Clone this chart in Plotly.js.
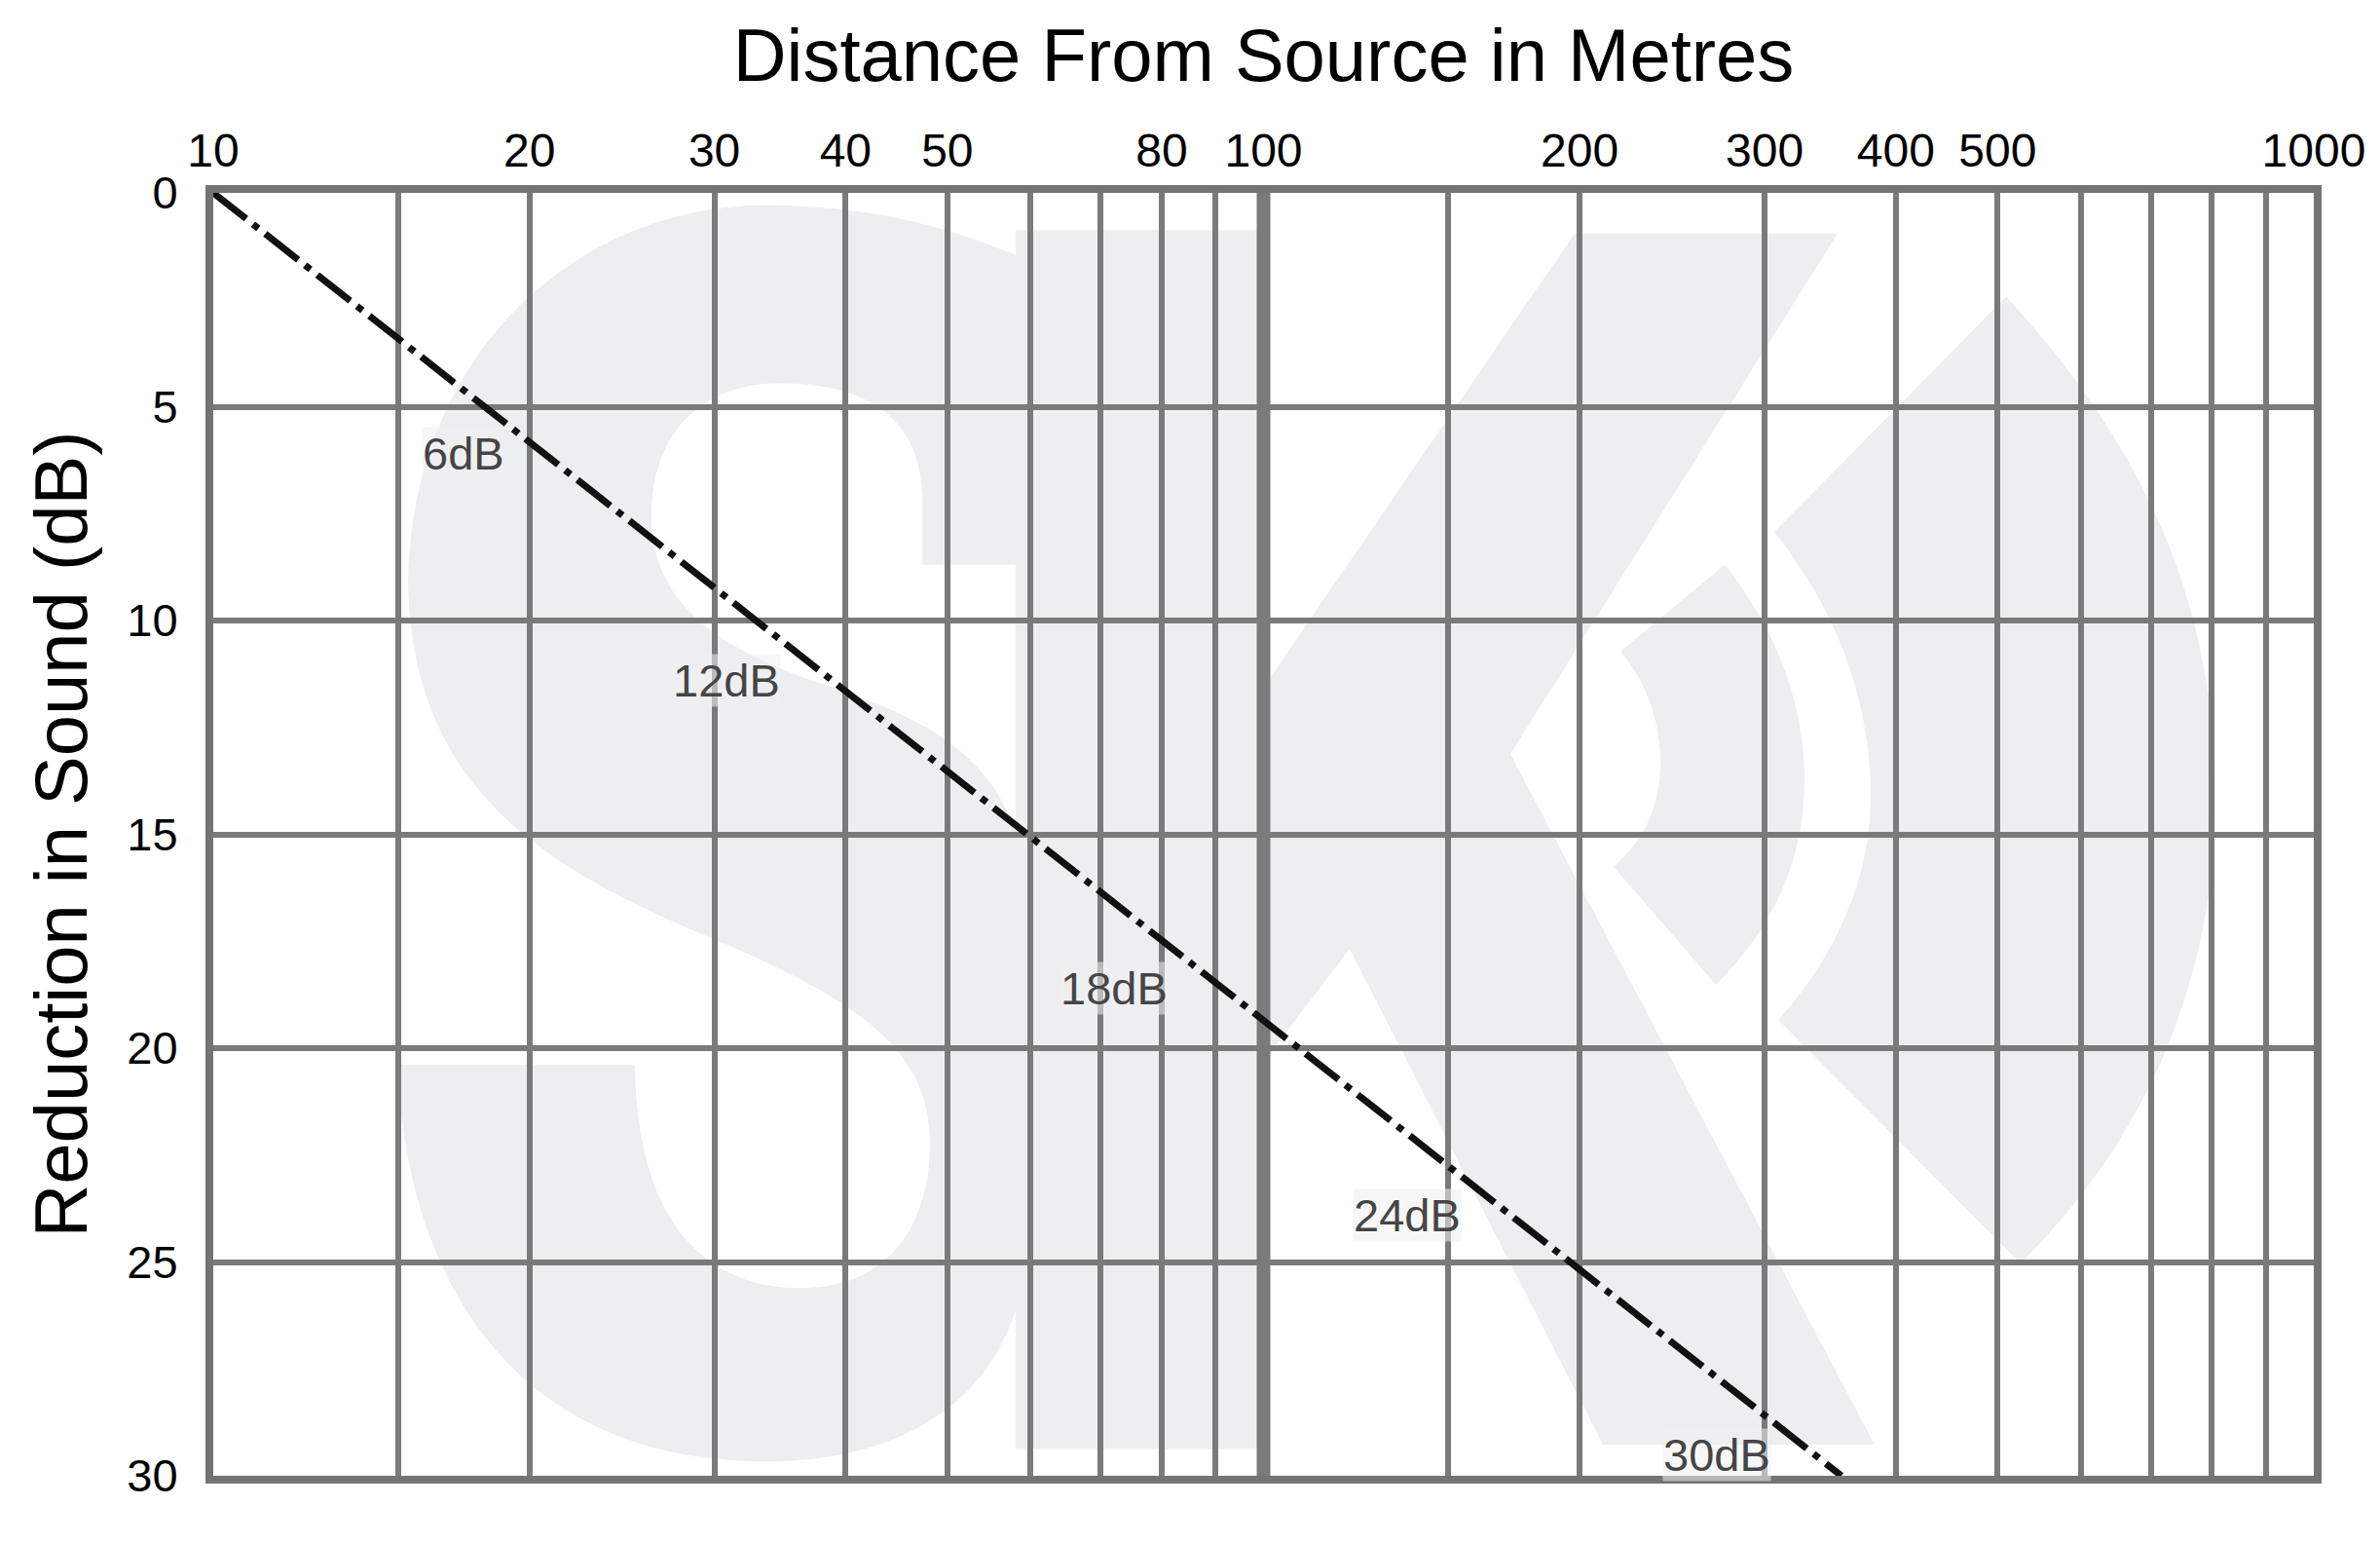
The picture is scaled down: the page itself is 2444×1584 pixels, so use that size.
<!DOCTYPE html>
<html>
<head>
<meta charset="utf-8">
<script src="https://cdn.plot.ly/plotly-3.0.1.min.js"></script>
<style>html,body{margin:0;padding:0;background:#fff;}#chart{width:2444px;height:1584px;}</style>
</head>
<body>
<div id="chart"></div>
<script>
// ---- data ----
const distances = [10, 355];            // metres
const reductions = [0, 30];             // dB
const labelTexts = ['6dB', '12dB', '18dB', '24dB', '30dB'];
const labelDistances = [17.3, 30.8, 72.1, 137, 270];
const labelReductions = [6.1, 11.4, 18.6, 23.9, 29.5];
const gridDistances = [10, 15, 20, 30, 40, 50, 60, 70, 80, 90, 100, 150, 200, 300, 400, 500, 600, 700, 800, 900, 1000];
const gridLabels = ['10', '', '20', '30', '40', '50', '', '', '80', '', '100', '', '200', '300', '400', '500', '', '', '', '', '1000'];
const reductionTicks = [0, 5, 10, 15, 20, 25, 30];
const emphasisDistance = 100;

// ---- layout geometry ----
const W = 2444, H = 1584;
const M = {l: 219, r: 68, t: 198, b: 69};
const PW = W - M.l - M.r, PH = H - M.t - M.b;
const GRID = '#7a7a7a';
const FONT = 'Liberation Sans, Arial, Helvetica, sans-serif';

// watermark logo (decorative), authored in page pixels and converted to paper units
function toPaper(p) {
  return p.replace(/(-?\d+(?:\.\d+)?),(-?\d+(?:\.\d+)?)/g, function (m, x, y) {
    const yy = 190 + (+y - 190) * 1.1565;
    return ((+x - M.l) / PW).toFixed(5) + ',' + (1 - (yy - M.t) / PH).toFixed(5);
  });
}
const WM = '#edeef0';
const logoPaths = [
  // S
  'M1043,527 L947,527 L947,469 C947,420 920,366 801,366 C720,366 669,410 669,483 C669,557 727,601 859,637 ' +
  'C984,674 1057,718 1057,850 L1057,1107 C1057,1253 947,1323 786,1323 C544,1323 419,1180 408,971 L652,971 ' +
  'C654,1107 720,1169 823,1169 C911,1169 955,1114 955,1041 C955,960 889,916 727,857 C544,791 423,718 419,542 ' +
  'C423,337 595,208 786,208 C911,208 991,234 1043,252 Z',
  // K stem
  'M1043,230 L1295,230 L1295,1312 L1043,1312 Z',
  // K arms
  'M1279,659 L1617,233 L1887,233 L1551,695 L1925,1308 L1646,1308 L1386,868 L1279,989 Z',
  // big crescent
  'M2060,289 C2200,420 2275,560 2275,733 C2275,900 2200,1040 2075,1147 L1826,931 C1890,870 1921,800 1921,733 ' +
  'C1921,640 1880,560 1822,498 Z',
  // small crescent
  'M1771,527 L1664,604 C1690,630 1705,665 1705,703 C1705,740 1690,770 1657,795 L1762,900 ' +
  'C1820,850 1853,790 1853,718 C1853,645 1820,580 1771,527 Z'
];
const shapes = logoPaths.map(p => ({
  type: 'path', path: toPaper(p), xref: 'paper', yref: 'paper', layer: 'below',
  fillcolor: WM, line: {width: 0}
}));
// emphasised 100 m gridline
shapes.push({
  type: 'line', xref: 'x', yref: 'paper', x0: emphasisDistance, x1: emphasisDistance, y0: 0, y1: 1,
  layer: 'between', line: {color: GRID, width: 14}
});

const trace = {
  x: distances, y: reductions, type: 'scatter', mode: 'lines',
  line: {color: '#111111', width: 7, dash: '43px,9px,7px,9px'},
  hoverinfo: 'skip', showlegend: false
};

const annotations = labelTexts.map((t, i) => ({
  x: Math.log10(labelDistances[i]), y: labelReductions[i], xref: 'x', yref: 'y',
  text: t, showarrow: false, font: {family: FONT, size: 47, color: '#454545'},
  bgcolor: 'rgba(240,241,243,0.55)', borderpad: 0
}));

const layout = {
  width: W, height: H,
  margin: M,
  paper_bgcolor: '#ffffff', plot_bgcolor: 'rgba(0,0,0,0)',
  font: {family: FONT, color: '#000'},
  showlegend: false,
  xaxis: {
    type: 'log', range: [1, 3], side: 'top',
    tickmode: 'array', tickvals: gridDistances, ticktext: gridLabels,
    ticks: '', ticklabelstandoff: 0,
    tickfont: {family: FONT, size: 48, color: '#000'},
    showgrid: true, gridcolor: GRID, gridwidth: 6,
    showline: true, mirror: true, linecolor: '#747474', linewidth: 8,
    zeroline: false,
    title: {text: 'Distance From Source in Metres', font: {family: FONT, size: 76, color: '#000'}, standoff: 22}
  },
  yaxis: {
    range: [30, 0],
    tickmode: 'array', tickvals: reductionTicks,
    ticks: '', ticklabelstandoff: 19,
    tickfont: {family: FONT, size: 47, color: '#000'},
    showgrid: true, gridcolor: GRID, gridwidth: 6,
    showline: true, mirror: true, linecolor: '#747474', linewidth: 8,
    zeroline: false,
    title: {text: 'Reduction in Sound (dB)', font: {family: FONT, size: 76, color: '#000'}, standoff: 19}
  },
  shapes: shapes,
  annotations: annotations
};

Plotly.newPlot('chart', [trace], layout, {displayModeBar: false, staticPlot: true});
</script>
</body>
</html>
